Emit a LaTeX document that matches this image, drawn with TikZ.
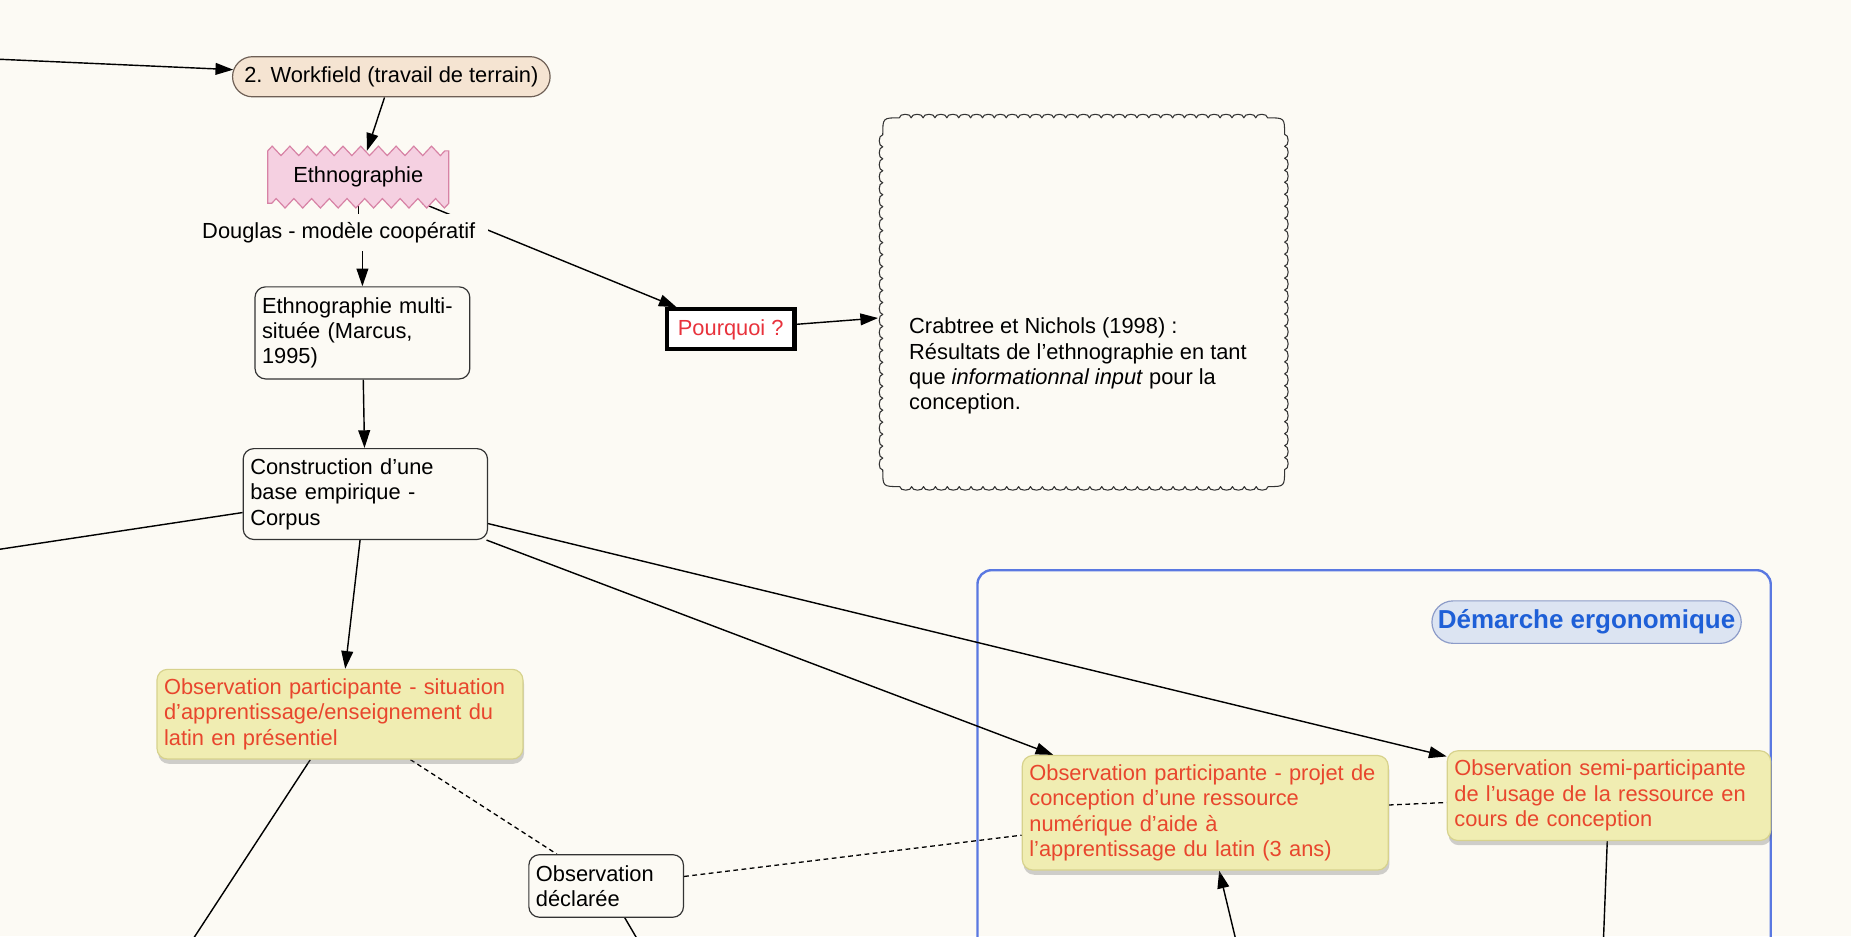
\documentclass[tikz,border=0pt]{standalone}
\usepackage{fontspec}
\setmainfont{Liberation Sans}
\usetikzlibrary{arrows.meta,shapes.misc,shadows,decorations.pathmorphing}
\definecolor{bgc}{RGB}{252,250,244}
\definecolor{wff}{RGB}{245,228,210}
\definecolor{wfb}{RGB}{110,95,85}
\definecolor{ethf}{RGB}{245,208,225}
\definecolor{ethb}{RGB}{215,130,165}
\definecolor{yelf}{RGB}{240,237,178}
\definecolor{yelb}{RGB}{215,210,140}
\definecolor{redt}{RGB}{232,70,45}
\definecolor{redq}{RGB}{232,50,60}
\definecolor{bluef}{RGB}{90,120,225}
\definecolor{demf}{RGB}{220,228,242}
\definecolor{demb}{RGB}{140,155,200}
\definecolor{demt}{RGB}{30,95,215}
\pgfdeclarelayer{back}
\pgfdeclarelayer{edges}
\pgfdeclarelayer{deco}
\pgfsetlayers{back,edges,deco,main}
\begin{document}
\begin{tikzpicture}[x=1pt,y=-1pt,
  every node/.style={font=\fontsize{18.5}{21.5}\selectfont, inner sep=0pt},
  conc/.style={draw=black!80, line width=1pt, rounded corners=9pt, fill=bgc, align=left, inner xsep=6pt, inner ysep=5pt},
  yel/.style={draw=yelb, line width=1pt, rounded corners=9pt, fill=yelf, text=redt, align=left, inner xsep=6pt, inner ysep=5pt, drop shadow={shadow xshift=1pt, shadow yshift=-4pt, opacity=0.3, fill=black!60}},
  link/.style={line width=1.2pt, draw=black},
  arr/.style={link, -{Triangle[length=15pt,width=10pt]}},
  dl/.style={line width=1.1pt, draw=black, dash pattern=on 4pt off 3pt},
  zz/.style={decoration={zigzag, segment length=15pt, amplitude=4pt}}
]
\useasboundingbox (0,0) rectangle (1568,793);
\begin{pgfonlayer}{back}
\fill[bgc] (0,0) rectangle (1568,793);
\node[draw=bluef, line width=2pt, rounded corners=12pt, minimum width=672pt, minimum height=347pt] (grp) at (1164,656.5) {};
\end{pgfonlayer}

% nodes
\node[rounded rectangle, draw=wfb, line width=1pt, fill=wff, minimum width=269pt, minimum height=34pt] (wf) at (331.5,65) {2. Workfield (travail de terrain)};
\node[minimum width=153pt, minimum height=44pt] (ethno) at (303.5,150) {Ethnographie};
\node[fill=bgc, inner xsep=11pt, inner ysep=7pt] (lbl) at (287,197) {Douglas - modèle coopératif};
\node[draw=black, line width=3.5pt, fill=white, text=redq, minimum width=108pt, minimum height=34pt] (pq) at (619,279) {Pourquoi ?};
\node[minimum width=340pt, minimum height=312pt] (cloud) at (918,256) {};
\node[anchor=north west, align=left] (ctext) at (770,269) {Crabtree et Nichols (1998) :\\Résultats de l’ethnographie en tant\\que \textit{informationnal input} pour la\\conception.};
\node[conc, text width=170pt, minimum height=78pt] (multi) at (307,282) {Ethnographie multi-\\située (Marcus,\\1995)};
\node[conc, text width=195pt, minimum height=77pt] (constr) at (309.5,418.5) {Construction d’une\\base empirique -\\Corpus};
\node[yel, text width=298pt, minimum height=76pt] (obssit) at (288,605) {Observation participante - situation\\d’apprentissage/enseignement du\\latin en présentiel};
\node[conc, text width=119pt, minimum height=53pt] (obsdecl) at (513.5,750.5) {Observation\\déclarée};
\node[yel, text width=298pt, minimum height=97pt] (obsprojet) at (1021,688.5) {Observation participante - projet de\\conception d’une ressource\\numérique d’aide à\\l’apprentissage du latin (3 ans)};
\node[yel, text width=262pt, minimum height=76pt] (obssemi) at (1363,674) {Observation semi-participante\\de l’usage de la ressource en\\cours de conception};
\node[rounded rectangle, draw=demb, line width=1pt, fill=demf, text=demt, font=\fontsize{22}{26}\selectfont\bfseries, minimum width=262pt, minimum height=36pt] (dem) at (1344,527) {Démarche ergonomique};

\begin{pgfonlayer}{deco}
\draw[draw=ethb, fill=ethf, line width=1pt] (ethno.north west) decorate[zz]{-- (ethno.north east)} -- (ethno.south east) decorate[zz]{-- (ethno.south west)} -- cycle;
\draw[draw=black!80, line width=0.9pt, line join=round]
  ([xshift=14pt]cloud.north west)
  \foreach \i in {1,...,31} { .. controls +(0,-4) and +(0,-4) .. ++(10.0645,0) }
  .. controls (cloud.north east) .. ([yshift=-14pt]cloud.north east)
  \foreach \i in {1,...,28} { .. controls +(4,0) and +(4,0) .. ++(0,10.1429) }
  .. controls (cloud.south east) .. ([xshift=-14pt]cloud.south east)
  \foreach \i in {1,...,31} { .. controls +(0,4) and +(0,4) .. ++(-10.0645,0) }
  .. controls (cloud.south west) .. ([yshift=14pt]cloud.south west)
  \foreach \i in {1,...,28} { .. controls +(-4,0) and +(-4,0) .. ++(0,-10.1429) }
  .. controls (cloud.north west) .. ([xshift=14pt]cloud.north west);
\end{pgfonlayer}

% connectors
\coordinate (inA) at (-5,50);
\coordinate (inB) at (-5,466);
\coordinate (outC) at (141,830);
\coordinate (outD) at (560,830);
\coordinate (inE) at (1055,830);
\coordinate (outF) at (1357,830);
\begin{pgfonlayer}{edges}
\draw[arr] (inA) -- (wf);
\draw[arr] (wf) -- (ethno);
\draw[link] (ethno.south) -- (ethno.south |- lbl.north);
\draw[arr] (multi |- lbl.south) -- (multi.north);
\draw[arr] (ethno) -- (pq);
\draw[arr, shorten >=4pt] (pq) -- (cloud);
\draw[arr] (multi) -- (constr);
\draw[link] (inB) -- (constr);
\draw[arr] (constr) -- (obssit);
\draw[link] (outC) -- (obssit);
\draw[dl] (obssit) -- (obsdecl);
\draw[dl] (obsdecl) -- (obsprojet);
\draw[link] (obsdecl) -- (outD);
\draw[arr] (constr) -- (obsprojet);
\draw[arr] (constr) -- (obssemi);
\draw[dl] (obsprojet) -- (obssemi);
\draw[arr] (inE) -- (obsprojet);
\draw[link] (obssemi) -- (outF);
\end{pgfonlayer}
\end{tikzpicture}
\end{document}
